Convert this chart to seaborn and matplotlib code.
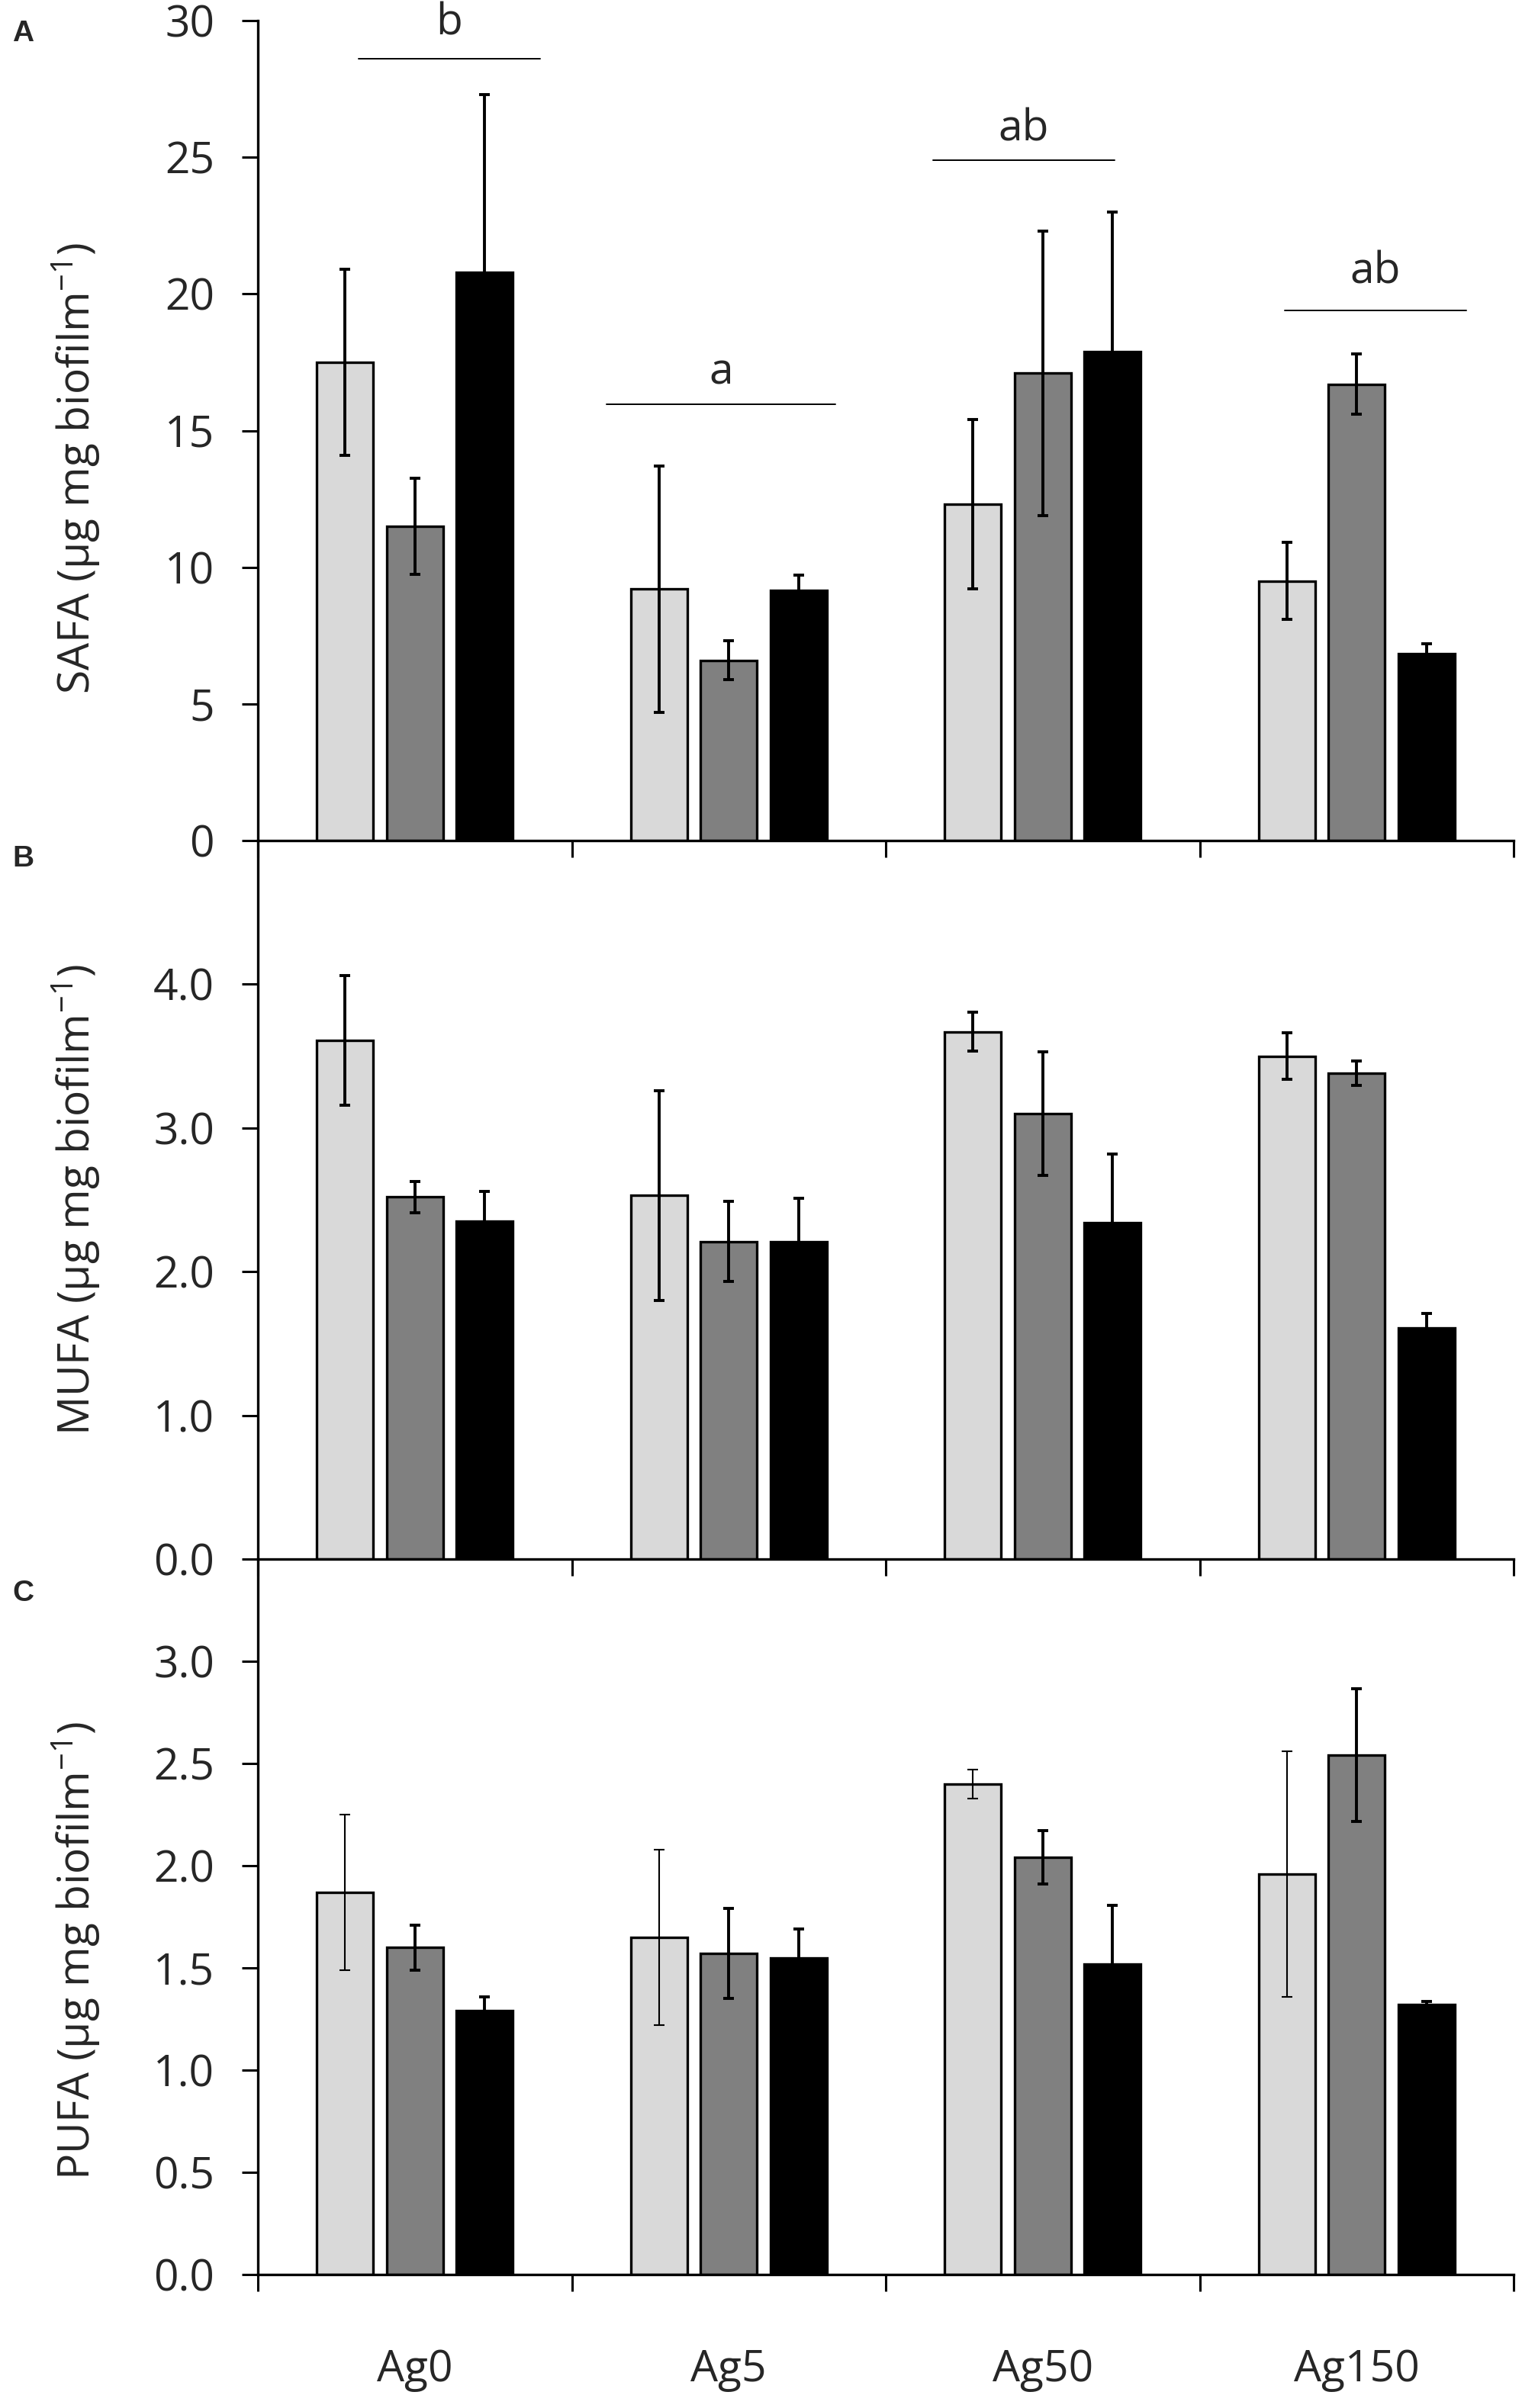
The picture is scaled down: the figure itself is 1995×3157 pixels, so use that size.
import numpy as np
import pandas as pd
import matplotlib
matplotlib.use("Agg")
import matplotlib.pyplot as plt
import seaborn as sns


# Categories and series (three treatments per silver level)
groups = ["Ag0", "Ag5", "Ag50", "Ag150"]
series = ["S1", "S2", "S3"]
colors = ["#d9d9d9", "#808080", "#000000"]

# Panel A: SAFA means and errors
safa_mean = {"S1": [17.5, 9.2, 12.3, 9.5],
             "S2": [11.5, 6.6, 17.1, 16.7],
             "S3": [20.8, 9.15, 17.9, 6.85]}
safa_err = {"S1": [3.4, 4.5, 3.1, 1.4],
            "S2": [1.75, 0.72, 5.2, 1.1],
            "S3": [6.5, 0.57, 5.1, 0.35]}

# Panel B: MUFA means and errors
mufa_mean = {"S1": [3.61, 2.53, 3.67, 3.50],
             "S2": [2.52, 2.21, 3.10, 3.38],
             "S3": [2.35, 2.21, 2.34, 1.61]}
mufa_err = {"S1": [0.45, 0.73, 0.135, 0.16],
            "S2": [0.11, 0.28, 0.43, 0.085],
            "S3": [0.21, 0.30, 0.48, 0.10]}

# Panel C: PUFA means and errors
pufa_mean = {"S1": [1.87, 1.65, 2.40, 1.96],
             "S2": [1.60, 1.57, 2.04, 2.54],
             "S3": [1.29, 1.55, 1.52, 1.32]}
pufa_err = {"S1": [0.38, 0.43, 0.07, 0.60],
            "S2": [0.11, 0.22, 0.13, 0.325],
            "S3": [0.07, 0.14, 0.285, 0.015]}

# Significance letters over panel A
sig_letters = ["b", "a", "ab", "ab"]
sig_x0 = [-0.18, 0.61, 1.65, 2.77]
sig_x1 = [0.40, 1.34, 2.23, 3.35]
sig_line_y = [28.6, 15.95, 24.9, 19.4]
sig_text_y = [29.9, 17.1, 26.0, 20.8]


def long_table(means):
    rows = []
    for s in series:
        for g, v in zip(groups, means[s]):
            rows.append({"group": g, "series": s, "value": v})
    return pd.DataFrame(rows)


sns.set_theme(style="ticks")
plt.rcParams["font.family"] = ["Open Sans", "DejaVu Sans"]
plt.rcParams["mathtext.default"] = "regular"

fig = plt.figure(figsize=(19.95, 31.57), dpi=100)

left = 338 / 1995
width = (1984 - 338) / 1995
ax_a = fig.add_axes([left, 1 - 1102 / 3157, width, (1102 - 27) / 3157])
ax_b = fig.add_axes([left, 1 - 2044 / 3157, width, (2044 - 1102) / 3157])
ax_c = fig.add_axes([left, 1 - 2982 / 3157, width, (2982 - 2044) / 3157])

panels = [
    (ax_a, safa_mean, safa_err, "SAFA", 30, np.arange(0, 31, 5), "{:.0f}", 0.454),
    (ax_b, mufa_mean, mufa_err, "MUFA", 5, np.arange(0, 4.1, 1.0), "{:.1f}", 0.5),
    (ax_c, pufa_mean, pufa_err, "PUFA", 3.5, np.arange(0, 3.01, 0.5), "{:.1f}", 0.452),
]

fs = 41
for ax, means, errs, name, top, yticks, fmt, ylab_y in panels:
    df = long_table(means)
    sns.barplot(data=df, x="group", y="value", hue="series", order=groups,
                hue_order=series, palette=colors, width=0.666, gap=0.19,
                edgecolor="black", linewidth=2.4, errorbar=None,
                legend=False, ax=ax)

    # error bars on top of each bar
    for s, cont in zip(series, ax.containers):
        xs = [p.get_x() + p.get_width() / 2 for p in cont]
        hs = [p.get_height() for p in cont]
        lw = 1.5 if (name == "PUFA" and s == "S1") else 2.8
        ax.errorbar(xs, hs, yerr=errs[s], fmt="none", ecolor="black",
                    elinewidth=lw, capsize=5, capthick=lw, zorder=5)

    ax.set_ylim(0, top)
    ax.set_xlim(-0.5, 3.5)
    ax.set_yticks(yticks)
    ax.set_yticklabels([fmt.format(t) for t in yticks], fontsize=fs)
    ax.set_ylabel(name + r" (µg mg biofilm$^{-1}$)", fontsize=fs)
    ax.yaxis.set_label_coords(-0.124, ylab_y)
    ax.set_xlabel("")

    ax.set_xticks(range(len(groups)))
    ax.set_xticks(np.arange(-0.5, 4.0, 1.0), minor=True)
    ax.tick_params(axis="x", which="major", length=0, pad=70, labelsize=fs)
    ax.tick_params(axis="x", which="minor", length=16, width=2.2,
                   direction="out", color="black")
    ax.tick_params(axis="y", length=15, width=2.2, direction="out",
                   pad=26, color="black")
    if ax is not ax_c:
        ax.set_xticklabels([])

    for sp in ["top", "right"]:
        ax.spines[sp].set_visible(False)
    for sp in ["left", "bottom"]:
        ax.spines[sp].set_linewidth(2.4)
        ax.spines[sp].set_color("black")
    ax.patch.set_alpha(0)

# significance lines and letters
for lab, x0, x1, ly, ty in zip(sig_letters, sig_x0, sig_x1, sig_line_y, sig_text_y):
    ax_a.plot([x0, x1], [ly, ly], color="black", lw=1.4, clip_on=False)
    ax_a.text((x0 + x1) / 2, ty, lab, ha="center", va="center", fontsize=fs)

# panel letters
for lab, yp in zip(["A", "B", "C"], [44, 1126, 2089]):
    fig.text(16 / 1995, 1 - yp / 3157, lab, ha="left", va="center",
             fontsize=28, fontweight="bold", family=["Liberation Sans", "DejaVu Sans"])

fig.savefig("out.png", dpi=100, facecolor="white")
